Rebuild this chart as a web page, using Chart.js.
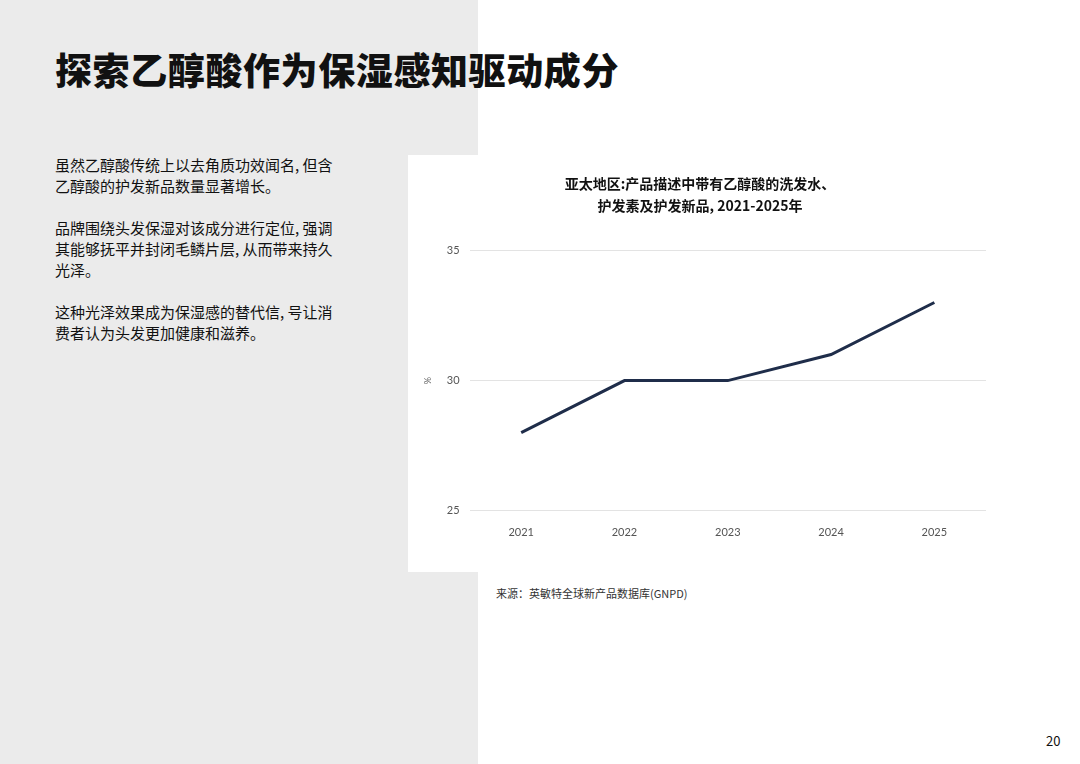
<!DOCTYPE html>
<html>
<head>
<meta charset="utf-8">
<script src="https://cdn.jsdelivr.net/npm/chart.js@4/dist/chart.umd.min.js"></script>
<style>
    html, body { margin: 0; padding: 0; }
    body {
        width: 1080px; height: 764px; position: relative; overflow: hidden;
        background: #ffffff;
        font-family: "Noto Sans CJK SC", "Noto Sans", sans-serif;
        color: #111;
    }
    .side { position: absolute; left: 0; top: 0; width: 478px; height: 764px; background: #ebebeb; }
    h1 {
        position: absolute; left: 55px; top: 42px; margin: 0;
        font-size: 37px; font-weight: 900; letter-spacing: 0.6px; color: #111;
    }
    .text { position: absolute; left: 55px; top: 154px; width: 320px; font-size: 15px; line-height: 21px; white-space: nowrap; }
    .text p { margin: 0 0 21px 0; }
    .box { position: absolute; left: 408px; top: 155px; width: 606px; height: 417px; background: #fff; }
    .source { position: absolute; left: 496px; top: 585px; font-size: 11px; color: #333; }
    .page { position: absolute; left: 1046px; top: 731px; font-size: 13px; color: #111; }
</style>
</head>
<body>
<div class="side"></div>
<h1>探索乙醇酸作为保湿感知驱动成分</h1>
<div class="text">
    <p>虽然乙醇酸传统上以去角质功效闻名, 但含<br>乙醇酸的护发新品数量显著增长。</p>
    <p>品牌围绕头发保湿对该成分进行定位, 强调<br>其能够抚平并封闭毛鳞片层, 从而带来持久<br>光泽。</p>
    <p>这种光泽效果成为保湿感的替代信, 号让消<br>费者认为头发更加健康和滋养。</p>
</div>
<div class="box"><canvas id="glycolicChart" width="606" height="417"></canvas></div>
<div class="source">来源：英敏特全球新产品数据库(GNPD)</div>
<div class="page">20</div>

<script>
const years = ['2021', '2022', '2023', '2024', '2025'];
const shares = [28, 30, 30, 31, 33];
const yTicks = [25, 30, 35];

function renderGlycolicChart() {
    const ctx = document.getElementById('glycolicChart').getContext('2d');

    new Chart(ctx, {
        type: 'line',
        data: {
            labels: years,
            datasets: [{
                label: '%',
                data: shares,
                borderColor: '#1f2d4a',
                borderWidth: 3,
                pointRadius: 0,
                fill: false,
                tension: 0
            }]
        },
        options: {
            responsive: false,
            animation: false,
            layout: {
                padding: { top: 18, left: 6, right: 28, bottom: 26 }
            },
            plugins: {
                legend: { display: false },
                tooltip: { enabled: false },
                title: {
                    display: true,
                    text: ['亚太地区:产品描述中带有乙醇酸的洗发水、', '护发素及护发新品, 2021-2025年'],
                    color: '#111',
                    font: { family: '"Noto Sans CJK SC", sans-serif', size: 14, weight: 'bold', lineHeight: 1.55 },
                    padding: { top: 0, bottom: 34 }
                }
            },
            scales: {
                x: {
                    offset: true,
                    grid: { display: false },
                    border: { display: false },
                    ticks: {
                        color: '#555',
                        padding: 7,
                        font: { family: 'Lato, "Open Sans", sans-serif', size: 11 }
                    }
                },
                y: {
                    min: 25,
                    max: 35,
                    afterBuildTicks: function(axis) {
                        axis.ticks = yTicks.map(v => ({ value: v }));
                    },
                    grid: { color: '#e3e3e3', lineWidth: 1, drawTicks: false },
                    border: { display: false },
                    title: {
                        display: true,
                        text: '%',
                        color: '#666',
                        font: { family: 'Lato, sans-serif', size: 9 },
                        padding: { top: 9, bottom: 3 }
                    },
                    ticks: {
                        color: '#555',
                        padding: 10,
                        font: { family: 'Lato, "Open Sans", sans-serif', size: 11 }
                    }
                }
            }
        }
    });
}

renderGlycolicChart();
</script>
</body>
</html>
